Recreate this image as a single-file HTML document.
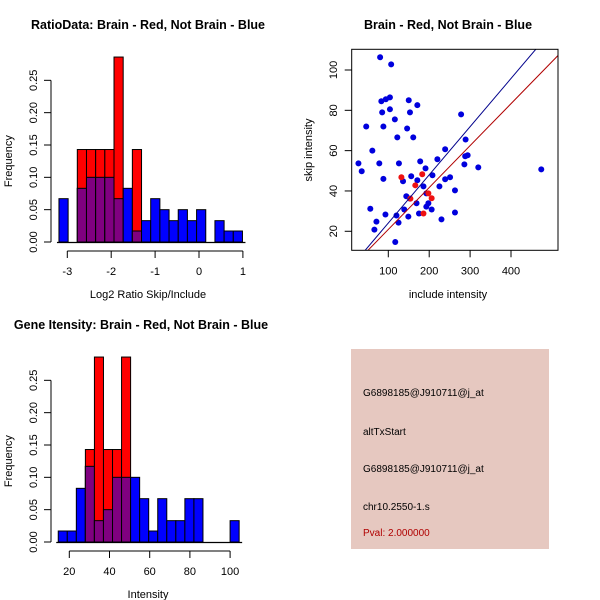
<!DOCTYPE html>
<html><head><meta charset="utf-8"><style>
body{margin:0;background:#fff}
svg{display:block;font-family:"Liberation Sans",sans-serif}
</style></head><body>
<svg id="chart" width="600" height="600" xmlns="http://www.w3.org/2000/svg">
<rect width="600" height="600" fill="#fff"/>
<text x="148" y="29" text-anchor="middle" font-size="12.5" font-weight="bold">RatioData: Brain - Red, Not Brain - Blue</text>
<text x="448" y="29" text-anchor="middle" font-size="12.5" font-weight="bold">Brain - Red, Not Brain - Blue</text>
<text x="141" y="329" text-anchor="middle" font-size="12.5" font-weight="bold">Gene Itensity: Brain - Red, Not Brain - Blue</text>
<g id="p1"></g>
<g id="p2"></g>
<g id="p3"></g>
<g>
<rect x="351" y="349" width="198" height="200" fill="#e6c8c0"/>
<g font-size="10" fill="#000">
<text x="363" y="396">G6898185@J910711@j_at</text>
<text x="363" y="435">altTxStart</text>
<text x="363" y="472">G6898185@J910711@j_at</text>
<text x="363" y="510">chr10.2550-1.s</text>
<text x="363" y="536" fill="#b00000">Pval: 2.000000</text>
</g></g>
</svg>
<script>
// Ratio histogram data
const ratioStart = -3.19, ratioWidth = 0.209;
const ratioBlue = [0.067,0,0.083,0.1,0.1,0.1,0.067,0.083,0.017,0.033,0.067,0.05,0.033,0.05,0.033,0.05,0,0.033,0.017,0.017];
const ratioRed  = [0,0,0.143,0.143,0.143,0.143,0.286,0,0.143,0,0,0,0,0,0,0,0,0,0,0];
const ratioXTicks = [-3,-2,-1,0,1];
// Intensity histogram data
const intStart = 14.5, intWidth = 4.5;
const intBlue = [0.017,0.017,0.083,0.117,0.033,0.05,0.1,0.1,0.1,0.067,0.017,0.067,0.033,0.033,0.067,0.067,0,0,0,0.033];
const intRed  = [0,0,0,0.143,0.286,0.143,0.143,0.286,0,0,0,0,0,0,0,0,0,0,0,0];
const intXTicks = [20,40,60,80,100];
const freqTicks = ["0.00","0.05","0.10","0.15","0.20","0.25"];
// Scatter data
const blueX = [80,107,83,94,104,104,150,171,85,153,116,46,88,146,122,161,278,61,239,289,220,27,78,126,178,288,294,286,320,474,35,191,88,156,136,208,251,239,171,186,225,263,144,193,198,169,193,206,139,56,93,175,263,149,120,125,71,66,230,117,153];
const blueY = [106.3,102.8,84.5,85.5,86.4,80.5,85,82.6,79,79,75.5,72,72,71,66.6,66.6,78,60,60.7,65.5,55.7,53.7,53.7,53.7,54.7,57.2,57.7,53.2,51.7,50.7,49.8,51.2,46,47.3,44.8,47.8,46.8,45.8,45.3,42.3,42.3,40.3,37.4,38.8,33.9,33.9,32.2,30.8,30.8,31.2,28.3,28.8,29.3,27.3,27.8,24.3,24.8,20.8,25.9,14.7,36.2];
const redX = [132,183,166,154,206,198,186];
const redY = [46.8,48.3,42.8,36.2,36.4,38.8,28.8];
const lineSlopes = [0.239,0.208];
const lineIntercepts = [0.19,0.09];
const scXTicks = [100,200,300,400];
const scYTicks = [20,40,60,80,100];

const NS="http://www.w3.org/2000/svg";
function mk(parent,tag,attrs){const e=document.createElementNS(NS,tag);for(const k in attrs)e.setAttribute(k,attrs[k]);parent.appendChild(e);return e;}

function hist(g,start,width,blue,red,xTicks,xPx,y0,yPxPerUnit,xLabel,axisTop){
  const sy=v=>y0-v*yPxPerUnit;
  for(let i=0;i<blue.length;i++){
    const x1=xPx(start+i*width),x2=xPx(start+(i+1)*width);
    const b=blue[i],r=red[i];
    if(b>0){const e=mk(g,'rect',{x:x1,y:sy(b),width:x2-x1,height:b*yPxPerUnit,fill:'#0000ff',stroke:'#000','stroke-width':1});
      
      }
    if(r>0){const e=mk(g,'rect',{x:x1,y:sy(r),width:x2-x1,height:r*yPxPerUnit,fill:'#ff0000',stroke:'#000','stroke-width':1});
      
      }
    if(b>0&&r>0){const m=Math.min(b,r);const e=mk(g,'rect',{x:x1,y:sy(m),width:x2-x1,height:m*yPxPerUnit,fill:'#800080',stroke:'#000','stroke-width':1});
      
      }
  }
  mk(g,'line',{x1:51,x2:51,y1:y0,y2:sy(0.25),stroke:'#000'});
  freqTicks.forEach(t=>{const y=sy(parseFloat(t));mk(g,'line',{x1:44,x2:51,y1:y,y2:y,stroke:'#000'});
    const tx=mk(g,'text',{x:0,y:0,'font-size':11,'text-anchor':'middle',transform:`translate(37,${y}) rotate(-90)`});tx.textContent=t;
    
    });
  const yl=mk(g,'text',{x:0,y:0,'font-size':11,'text-anchor':'middle',transform:`translate(12,${sy(0.125)}) rotate(-90)`});yl.textContent='Frequency';
  
  
  const ax=axisTop;
  mk(g,'line',{x1:xPx(xTicks[0]),x2:xPx(xTicks[xTicks.length-1]),y1:ax,y2:ax,stroke:'#000'});
  xTicks.forEach(t=>{const x=xPx(t);mk(g,'line',{x1:x,x2:x,y1:ax,y2:ax+7,stroke:'#000'});
    const tx=mk(g,'text',{x:x,y:ax+24,'font-size':11,'text-anchor':'middle'});tx.textContent=t;
    
    });
  mk(g,'line',{x1:xPx(start)-2,x2:xPx(start+width*blue.length)+3,y1:y0+0.5,y2:y0+0.5,stroke:'#000','stroke-width':1.2});
  const xl=mk(g,'text',{x:148,y:ax+47,'font-size':11,'text-anchor':'middle'});xl.textContent=xLabel;
  
  
}

hist(document.getElementById('p1'),ratioStart,ratioWidth,ratioBlue,ratioRed,ratioXTicks,v=>67.3+(v+3)*43.9,242,646.7,'Log2 Ratio Skip/Include',251);
hist(document.getElementById('p3'),intStart,intWidth,intBlue,intRed,intXTicks,v=>69.3+(v-20)*2.01,542,646.7,'Intensity',551);

(function(){
  const g=document.getElementById('p2');
  const L=351.7,R=558,T=49.3,B=250.3;
  const sx=v=>388.3+(v-100)*0.409, sy=v=>70+(100-v)*2.016;
  const clip=mk(g,'clipPath',{id:'scClip'});mk(clip,'rect',{x:L,y:T,width:R-L,height:B-T});
  const pts=mk(g,'g',{'clip-path':'url(#scClip)'});
  for(let i=0;i<blueX.length;i++){const c=mk(pts,'circle',{cx:sx(blueX[i]),cy:sy(blueY[i]),r:3,fill:'#0000dd'});
    
    }
  for(let i=0;i<redX.length;i++){const c=mk(pts,'circle',{cx:sx(redX[i]),cy:sy(redY[i]),r:3,fill:'#ee1111'});
    
    }
  const cols=['#00008b','#b00000'];
  lineSlopes.forEach((m,i)=>{const x1=0,x2=600;const l=mk(pts,'line',{x1:sx(x1),y1:sy(lineIntercepts[i]+m*x1),x2:sx(x2),y2:sy(lineIntercepts[i]+m*x2),stroke:cols[i],'stroke-width':1});
    
    });
  mk(g,'rect',{x:L,y:T,width:R-L,height:B-T,fill:'none',stroke:'#000'});
  scXTicks.forEach(t=>{const x=sx(t);mk(g,'line',{x1:x,x2:x,y1:B,y2:B+7,stroke:'#000'});
    const tx=mk(g,'text',{x:x,y:B+24,'font-size':11,'text-anchor':'middle'});tx.textContent=t;
    
    });
  scYTicks.forEach(t=>{const y=sy(t);mk(g,'line',{x1:L-7,x2:L,y1:y,y2:y,stroke:'#000'});
    const tx=mk(g,'text',{x:0,y:0,'font-size':11,'text-anchor':'middle',transform:`translate(337,${y}) rotate(-90)`});tx.textContent=t;
    
    });
  const xl=mk(g,'text',{x:448,y:298,'font-size':11,'text-anchor':'middle'});xl.textContent='include intensity';
  
  
  const yl=mk(g,'text',{x:0,y:0,'font-size':11,'text-anchor':'middle',transform:'translate(312,150) rotate(-90)'});yl.textContent='skip intensity';
  
  
})();
</script>
</body></html>
